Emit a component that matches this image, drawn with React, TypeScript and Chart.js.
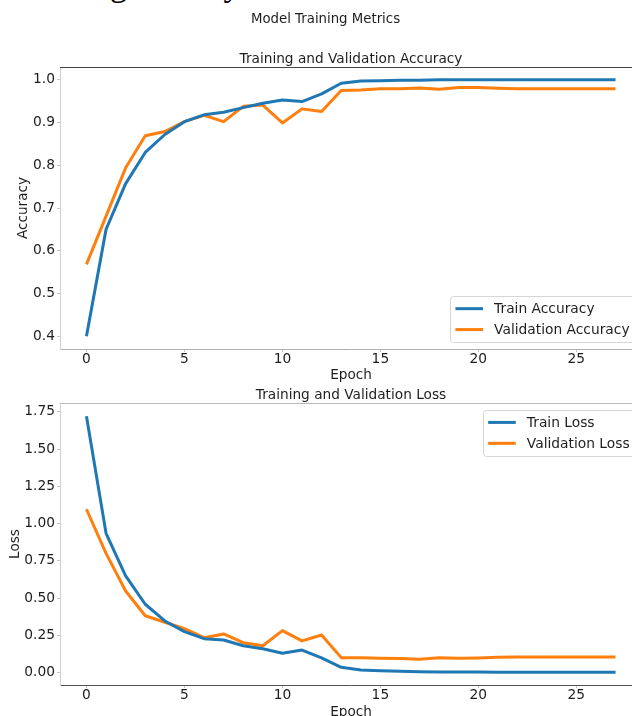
import React, { useEffect, useRef } from 'react';
import { Chart, registerables } from 'chart.js';

Chart.register(...registerables);

// ---------- data ----------
const epochs = [0, 1, 2, 3, 4, 5, 6, 7, 8, 9, 10, 11, 12, 13, 14, 15, 16, 17, 18, 19, 20, 21, 22, 23, 24, 25, 26, 27];
const trainAccuracy = [0.400, 0.650, 0.757, 0.830, 0.872, 0.902, 0.918, 0.924, 0.935, 0.945, 0.953, 0.949, 0.967, 0.992, 0.997, 0.998, 0.999, 0.999, 1.000, 1.000, 1.000, 1.000, 1.000, 1.000, 1.000, 1.000, 1.000, 1.000];
const valAccuracy = [0.568, 0.681, 0.794, 0.869, 0.879, 0.902, 0.917, 0.902, 0.938, 0.941, 0.899, 0.932, 0.926, 0.975, 0.976, 0.979, 0.979, 0.981, 0.978, 0.982, 0.982, 0.980, 0.979, 0.979, 0.979, 0.979, 0.979, 0.979];
const trainLoss = [1.720, 0.935, 0.649, 0.459, 0.347, 0.275, 0.228, 0.219, 0.181, 0.161, 0.130, 0.152, 0.100, 0.036, 0.018, 0.013, 0.009, 0.006, 0.005, 0.004, 0.004, 0.003, 0.003, 0.003, 0.003, 0.003, 0.003, 0.003];
const valLoss = [1.096, 0.800, 0.548, 0.382, 0.338, 0.295, 0.235, 0.260, 0.201, 0.181, 0.282, 0.213, 0.253, 0.101, 0.101, 0.097, 0.095, 0.090, 0.101, 0.097, 0.099, 0.103, 0.105, 0.105, 0.105, 0.105, 0.105, 0.105];

const epochTicks = [0, 5, 10, 15, 20, 25];
const accuracyTicks = [0.4, 0.5, 0.6, 0.7, 0.8, 0.9, 1.0];
const lossTicks = [0, 0.25, 0.5, 0.75, 1.0, 1.25, 1.5, 1.75];

const suptitleText = 'Model Training Metrics';
const accTitle = 'Training and Validation Accuracy';
const lossTitle = 'Training and Validation Loss';

// axis ranges (matplotlib-like 5% margins)
const X_MIN = -1.35;
const X_MAX = 28.35;
const ACC_MIN = 0.37;
const ACC_MAX = 1.03;
const LOSS_MIN = -0.0825;
const LOSS_MAX = 1.8085;

// ---------- styles ----------
const FONT = '"DejaVu Sans", sans-serif';
const BLUE = '#1f77b4';
const ORANGE = '#ff7f0e';
const TEXT = '#1e1e1e';

type OverlayOpts = {
  title: string;
  suptitle?: boolean;
  legendPos: 'lower right' | 'upper right';
  spineTop: string;
};

function overlayPlugin(p: OverlayOpts) {
  return {
    id: 'overlay',
    afterDraw(chart: any) {
      const ctx: CanvasRenderingContext2D = chart.ctx;
      const a = chart.chartArea;
      ctx.save();
      // top spine
      ctx.strokeStyle = p.spineTop;
      ctx.lineWidth = 1;
      ctx.beginPath();
      const ty = Math.round(a.top) + 0.5;
      ctx.moveTo(a.left, ty);
      ctx.lineTo(a.right, ty);
      ctx.stroke();

      // axes title
      ctx.fillStyle = TEXT;
      ctx.font = `13.7px ${FONT}`;
      ctx.textAlign = 'center';
      ctx.textBaseline = 'alphabetic';
      ctx.fillText(p.title, (a.left + a.right) / 2, a.top - 4);

      if (p.suptitle) {
        ctx.font = `13.3px ${FONT}`;
        ctx.fillText(suptitleText, 325.5, 23);
      }

      // legend
      const fs = 13.8;
      ctx.font = `${fs}px ${FONT}`;
      const ds = chart.data.datasets;
      let tw = 0;
      ds.forEach((d: any) => {
        tw = Math.max(tw, ctx.measureText(d.label).width);
      });
      const borderPad = 0.4 * fs;
      const handleLen = 2 * fs;
      const handlePad = 0.8 * fs;
      const rowH = 14;
      const spacing = 0.5 * fs;
      const axPad = 0.5 * fs;
      const w = borderPad * 2 + handleLen + handlePad + tw;
      const h = borderPad * 2 + rowH * ds.length + spacing * (ds.length - 1);
      const right = a.right - axPad;
      const left = right - w;
      const top = p.legendPos === 'lower right' ? a.bottom - axPad - h : a.top + axPad;
      ctx.fillStyle = 'rgba(255,255,255,0.8)';
      ctx.strokeStyle = '#d6d6d6';
      ctx.lineWidth = 1;
      ctx.beginPath();
      const r = 3;
      const L = Math.round(left) + 0.5, T = Math.round(top) + 0.5, R = Math.round(right) + 0.5, B = Math.round(top + h) + 0.5;
      ctx.moveTo(L + r, T);
      ctx.lineTo(R - r, T);
      ctx.arcTo(R, T, R, T + r, r);
      ctx.lineTo(R, B - r);
      ctx.arcTo(R, B, R - r, B, r);
      ctx.lineTo(L + r, B);
      ctx.arcTo(L, B, L, B - r, r);
      ctx.lineTo(L, T + r);
      ctx.arcTo(L, T, L + r, T, r);
      ctx.closePath();
      ctx.fill();
      ctx.stroke();

      ds.forEach((d: any, i: number) => {
        const cy = top + borderPad + rowH / 2 + i * (rowH + spacing);
        ctx.strokeStyle = d.borderColor;
        ctx.lineWidth = 3;
        ctx.lineCap = 'butt';
        ctx.beginPath();
        ctx.moveTo(left + borderPad, cy);
        ctx.lineTo(left + borderPad + handleLen, cy);
        ctx.stroke();
        ctx.fillStyle = TEXT;
        ctx.textAlign = 'left';
        ctx.textBaseline = 'middle';
        ctx.fillText(d.label, left + borderPad + handleLen + handlePad, cy + 1);
      });
      ctx.restore();
    },
  };
}

type PanelOpts = {
  height: number;
  padTop: number;
  xAxisH: number;
  xTitlePadBottom: number;
  yTitlePadTop: number;
  yMin: number;
  yMax: number;
  yTicks: number[];
  yDecimals: number;
  yLabel: string;
  a: number[];
  b: number[];
  aLabel: string;
  bLabel: string;
  spineBottom: string;
  overlay: OverlayOpts;
};

function buildConfig(o: PanelOpts): any {
  return {
    type: 'line',
    data: {
      datasets: [
        {
          label: o.aLabel,
          data: epochs.map((e, i) => ({ x: e, y: o.a[i] })),
          borderColor: BLUE,
          backgroundColor: BLUE,
        },
        {
          label: o.bLabel,
          data: epochs.map((e, i) => ({ x: e, y: o.b[i] })),
          borderColor: ORANGE,
          backgroundColor: ORANGE,
        },
      ],
    },
    options: {
      animation: false,
      responsive: false,
      maintainAspectRatio: false,
      layout: { padding: { top: o.padTop, right: 18, left: 0, bottom: 0 } },
      plugins: {
        legend: { display: false },
        title: { display: false },
        tooltip: { enabled: false },
      },
      elements: {
        point: { radius: 0, hoverRadius: 0 },
        line: { tension: 0, borderWidth: 3, borderJoinStyle: 'round', borderCapStyle: 'butt' },
      },
      scales: {
        x: {
          type: 'linear',
          min: X_MIN,
          max: X_MAX,
          afterFit: (s: any) => {
            s.height = o.xAxisH;
          },
          afterBuildTicks: (s: any) => {
            s.ticks = epochTicks.map((v) => ({ value: v }));
          },
          grid: { drawOnChartArea: false, drawTicks: true, tickLength: 3, color: '#c4c4c4' },
          border: { display: true, color: o.spineBottom, width: 1 },
          ticks: {
            font: { family: FONT, size: 13.8 },
            color: TEXT,
            padding: -1,
            maxRotation: 0,
            autoSkip: false,
            callback: (v: any) => String(v),
          },
          title: {
            display: true,
            text: 'Epoch',
            font: { family: FONT, size: 13.6 },
            color: TEXT,
            padding: { top: 0, bottom: o.xTitlePadBottom },
          },
        },
        y: {
          type: 'linear',
          min: o.yMin,
          max: o.yMax,
          afterFit: (s: any) => {
            s.width = 60;
          },
          afterBuildTicks: (s: any) => {
            s.ticks = o.yTicks.map((v) => ({ value: v }));
          },
          grid: { drawOnChartArea: false, drawTicks: true, tickLength: 3, color: '#c4c4c4' },
          border: { display: true, color: '#d0d0d0', width: 1 },
          ticks: {
            font: { family: FONT, size: 13.8 },
            color: TEXT,
            padding: 2,
            autoSkip: false,
            callback: (v: any) => Number(v).toFixed(o.yDecimals),
          },
          title: {
            display: true,
            text: o.yLabel,
            font: { family: FONT, size: 13.6 },
            color: TEXT,
            padding: { top: o.yTitlePadTop, bottom: 0 },
          },
        },
      },
    },
    plugins: [overlayPlugin(o.overlay)],
  };
}

function Panel({ top, width, opts }: { top: number; width: number; opts: PanelOpts }) {
  const ref = useRef<HTMLCanvasElement | null>(null);
  useEffect(() => {
    if (!ref.current) return;
    const chart = new Chart(ref.current, buildConfig(opts));
    return () => chart.destroy();
  }, []);
  return (
    <canvas
      ref={ref}
      width={width}
      height={opts.height}
      style={{ position: 'absolute', left: 0, top, width, height: opts.height, display: 'block' }}
    />
  );
}

export default function App() {
  const accOpts: PanelOpts = {
    height: 385,
    padTop: 67,
    xAxisH: 36,
    xTitlePadBottom: 1,
    yTitlePadTop: 15,
    yMin: ACC_MIN,
    yMax: ACC_MAX,
    yTicks: accuracyTicks,
    yDecimals: 1,
    yLabel: 'Accuracy',
    a: trainAccuracy,
    b: valAccuracy,
    aLabel: 'Train Accuracy',
    bLabel: 'Validation Accuracy',
    spineBottom: '#b0b0b0',
    overlay: { title: accTitle, suptitle: true, legendPos: 'lower right', spineTop: '#444444' },
  };
  const lossOpts: PanelOpts = {
    height: 345,
    padTop: 23,
    xAxisH: 40,
    xTitlePadBottom: 4,
    yTitlePadTop: 7,
    yMin: LOSS_MIN,
    yMax: LOSS_MAX,
    yTicks: lossTicks,
    yDecimals: 2,
    yLabel: 'Loss',
    a: trainLoss,
    b: valLoss,
    aLabel: 'Train Loss',
    bLabel: 'Validation Loss',
    spineBottom: '#505050',
    overlay: { title: lossTitle, legendPos: 'upper right', spineTop: '#b8b8b8' },
  };
  return (
    <div
      style={{
        position: 'absolute',
        left: 0,
        top: 0,
        width: 632,
        height: 716,
        overflow: 'hidden',
        background: '#ffffff',
      }}
    >
      <div
        style={{
          position: 'absolute',
          left: 8,
          top: -34,
          fontFamily: '"Liberation Serif", serif',
          fontSize: 35,
          lineHeight: '35px',
          whiteSpace: 'nowrap',
          color: '#000',
        }}
      >
        Training History
      </div>
      <Panel top={0} width={660} opts={accOpts} />
      <Panel top={380} width={660} opts={lossOpts} />
    </div>
  );
}
